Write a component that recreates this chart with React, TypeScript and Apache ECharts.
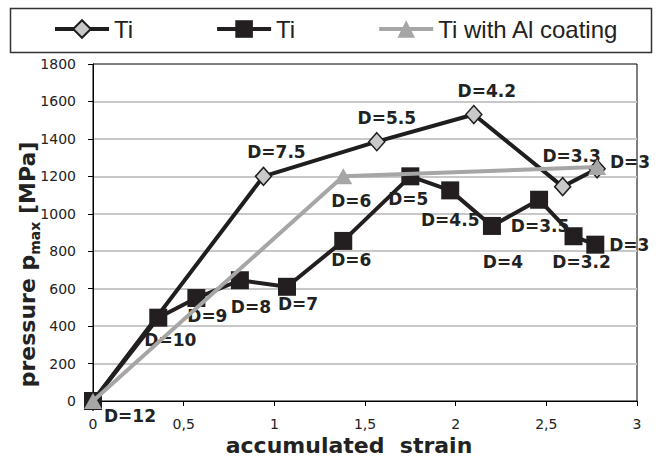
import React, { useEffect, useRef } from 'react';
import * as echarts from 'echarts';

// ---- data ----
const tiDiamondStrain = [0, 0.94, 1.565, 2.1, 2.59, 2.78];
const tiDiamondPressure = [0, 1200, 1385, 1530, 1145, 1240];
const tiDiamondLabels = ['', 'D=7.5', 'D=5.5', 'D=4.2', 'D=3.3', 'D=3'];

const tiSquareStrain = [0, 0.36, 0.57, 0.81, 1.07, 1.38, 1.75, 1.97, 2.2, 2.46, 2.65, 2.77];
const tiSquarePressure = [0, 445, 550, 645, 610, 855, 1200, 1125, 935, 1075, 880, 835];
const tiSquareLabels = ['D=12', 'D=10', 'D=9', 'D=8', 'D=7', 'D=6', 'D=5', 'D=4.5', 'D=4', 'D=3.5', 'D=3.2', 'D=3'];

const tiAlStrain = [0, 1.38, 2.78];
const tiAlPressure = [0, 1200, 1250];
const tiAlLabels = ['', 'D=6', ''];

const seriesIds = ['Ti-a', 'Ti-b', 'Ti-al'];
const legendTexts = ['Ti', 'Ti', 'Ti with Al coating'];

const xTitle = 'accumulated  strain';
const yTitleMain = 'pressure p';
const yTitleSub = 'max';
const yTitleUnit = ' [MPa]';

// ---- layout (label offsets from each point, px) ----
const diamondLabelOffsets = [[0, 0], [13, -24], [10, -24], [13, -24], [9, -31], [33, -7]];
const squareLabelOffsets = [[37, 15], [12, 22], [11, 18], [11, 27], [11, 17], [8, 19], [-2, 23], [0, 30], [11, 36], [1, 26], [8, 26], [34, 0]];
const alLabelOffsets = [[0, 0], [8, 25], [0, 0]];

const build = (xs: number[], ys: number[], labels: string[], offsets: number[][]) =>
  xs.map((x, i) => ({
    value: [x, ys[i]],
    label: { show: labels[i] !== '', formatter: labels[i], offset: offsets[i] },
  }));

const labelBase = {
  show: true,
  position: 'inside',
  fontFamily: 'DejaVu Sans',
  fontWeight: 'bold',
  fontSize: 17,
  color: '#222',
};

export default function App() {
  const ref = useRef<HTMLDivElement>(null);
  useEffect(() => {
    if (!ref.current) return;
    const chart = echarts.init(ref.current, undefined, { renderer: 'svg' });
    const option: any = {
      animation: false,
      backgroundColor: '#fff',
      graphic: [
        {
          type: 'rect',
          shape: { x: 10.5, y: 8.5, width: 641, height: 44 },
          style: { fill: 'none', stroke: '#333', lineWidth: 1.5 },
          z: 10,
        },
      ],
      legend: {
        left: 53,
        top: 17,
        padding: 0,
        itemGap: 82,
        itemWidth: 54,
        itemHeight: 22,
        data: seriesIds,
        formatter: (name: string) => legendTexts[seriesIds.indexOf(name)],
        textStyle: { fontFamily: 'Liberation Sans', fontSize: 24, color: '#222' },
        lineStyle: { width: 4 },
        selectedMode: false,
      },
      grid: {
        left: 93,
        right: 24,
        top: 64,
        bottom: 60,
        show: true,
        borderColor: '#000',
        borderWidth: 1,
        backgroundColor: 'transparent',
        containLabel: false,
        outerBoundsMode: 'none',
      },
      xAxis: {
        type: 'value',
        min: 0,
        max: 3,
        interval: 0.5,
        axisLine: { show: true, lineStyle: { color: '#000', width: 1 } },
        axisTick: { show: true, length: 5, lineStyle: { color: '#000' } },
        splitLine: { show: false },
        axisLabel: {
          formatter: (v: number) => String(v).replace('.', ','),
          fontFamily: 'DejaVu Sans',
          fontSize: 14,
          color: '#222',
          margin: 16,
        },
        name: xTitle,
        nameLocation: 'middle',
        nameGap: 33,
        nameMoveOverlap: false,
        nameTextStyle: {
          fontFamily: 'DejaVu Sans',
          fontWeight: 'bold',
          fontSize: 22,
          color: '#222',
          padding: [0, 32, 0, 0],
        },
      },
      yAxis: {
        type: 'value',
        min: 0,
        max: 1800,
        interval: 200,
        axisLine: { show: true, lineStyle: { color: '#000', width: 1 } },
        axisTick: { show: true, length: 5, lineStyle: { color: '#000' } },
        splitLine: {
          show: true,
          showMinLine: false,
          showMaxLine: false,
          lineStyle: { color: '#c8c8c8', width: 2 },
        },
        axisLabel: {
          formatter: (v: number) => String(v),
          fontFamily: 'DejaVu Sans',
          fontSize: 14,
          color: '#222',
          margin: 17,
        },
        name: `{a|${yTitleMain}}{b|${yTitleSub}}{a|${yTitleUnit}}`,
        nameLocation: 'middle',
        nameGap: 51,
        nameMoveOverlap: false,
        nameTextStyle: {
          padding: [0, 64, 0, 0],
          rich: {
            a: { fontFamily: 'DejaVu Sans', fontWeight: 'bold', fontSize: 22, color: '#222', lineHeight: 30, verticalAlign: 'middle' },
            b: { fontFamily: 'DejaVu Sans', fontWeight: 'bold', fontSize: 14, color: '#222', lineHeight: 30, verticalAlign: 'bottom' },
          },
        },
      },
      series: [
        {
          id: seriesIds[0],
          name: seriesIds[0],
          type: 'line',
          data: build(tiDiamondStrain, tiDiamondPressure, tiDiamondLabels, diamondLabelOffsets),
          symbol: 'diamond',
          symbolSize: [16, 18],
          lineStyle: { color: '#1e1e1e', width: 4 },
          itemStyle: { color: '#c8c8c8', borderColor: '#1e1e1e', borderWidth: 1.5 },
          label: labelBase,
          emphasis: { disabled: true },
          z: 2,
        },
        {
          id: seriesIds[1],
          name: seriesIds[1],
          type: 'line',
          data: build(tiSquareStrain, tiSquarePressure, tiSquareLabels, squareLabelOffsets),
          symbol: 'rect',
          symbolSize: 18,
          lineStyle: { color: '#231f20', width: 4 },
          itemStyle: { color: '#231f20' },
          label: labelBase,
          emphasis: { disabled: true },
          z: 3,
        },
        {
          id: seriesIds[2],
          name: seriesIds[2],
          type: 'line',
          data: build(tiAlStrain, tiAlPressure, tiAlLabels, alLabelOffsets),
          symbol: 'triangle',
          symbolSize: [18, 16],
          lineStyle: { color: '#a6a6a6', width: 4 },
          itemStyle: { color: '#a6a6a6' },
          label: labelBase,
          emphasis: { disabled: true },
          z: 4,
        },
      ],
    };
    chart.setOption(option);
    return () => chart.dispose();
  }, []);
  return (
    <div
      ref={ref}
      style={{ position: 'fixed', left: 0, top: 0, width: 661, height: 461, background: '#fff' }}
    />
  );
}
